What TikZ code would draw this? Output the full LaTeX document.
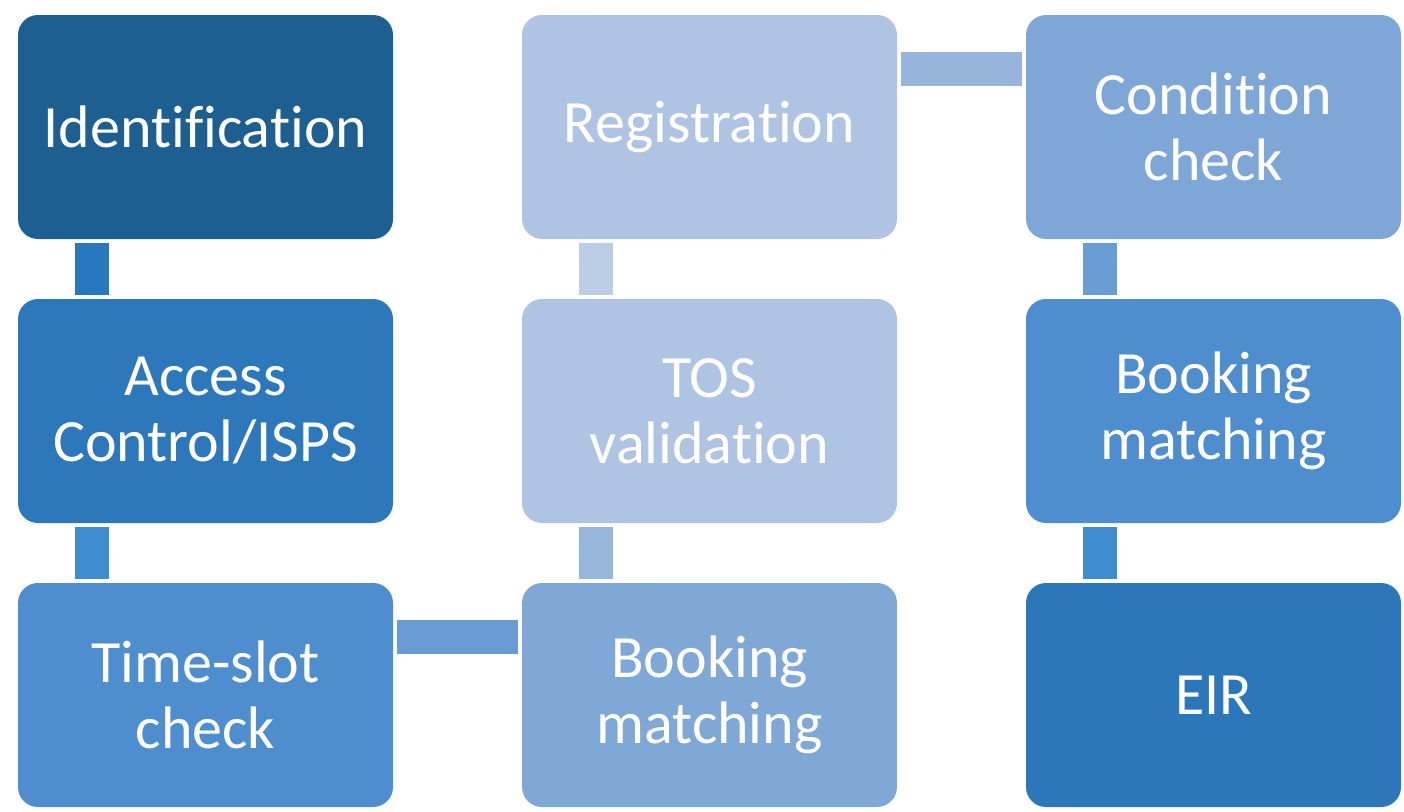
\documentclass[tikz,border=0pt]{standalone}
\usepackage{fontspec}
\setmainfont{Carlito}[Ligatures={NoCommon,NoContextual},RawFeature={-liga;-clig;-dlig}]
\usetikzlibrary{calc}
\definecolor{cId}{HTML}{1D5F91}
\definecolor{cAcc}{HTML}{2C78BA}
\definecolor{cTs}{HTML}{4E8ECF}
\definecolor{cBm}{HTML}{7FA8D7}
\definecolor{cTos}{HTML}{AFC4E2}
\definecolor{cReg}{HTML}{AFC4E2}
\definecolor{cCond}{HTML}{7EA7D7}
\definecolor{cBm2}{HTML}{4E8ECF}
\definecolor{cEir}{HTML}{2C77BA}
\definecolor{bA}{HTML}{2878BD}
\definecolor{bB}{HTML}{3F8CD0}
\definecolor{bC}{HTML}{6A9BD4}
\definecolor{bD}{HTML}{98B6DC}
\definecolor{bE}{HTML}{BCCDE6}
\definecolor{bF}{HTML}{97B5DC}
\definecolor{bG}{HTML}{6A9CD4}
\definecolor{bH}{HTML}{3F8CD0}
\tikzset{
  box/.style={rounded corners=20pt, minimum width=375pt, minimum height=224pt,
    inner sep=0pt, text=white, align=center, text width=360pt,
    font=\fontsize{60pt}{66pt}\selectfont},
  bar/.style={line width=34pt}
}
\begin{document}
\begin{tikzpicture}[x=1pt,y=-1pt]
\useasboundingbox (0,0) rectangle (1404,811);
\node[box, fill=cId]   (id)   at (205.5,127) {Identification};
\node[box, fill=cAcc]  (acc)  at (205.5,411) {Access\\Control/ISPS};
\node[box, fill=cTs]   (ts)   at (205.5,695) {Time-slot\\check};
\node[box, fill=cBm]   (bm)   at (709.5,695) {Booking\\matching};
\node[box, fill=cTos]  (tos)  at (709.5,411) {TOS\\validation};
\node[box, fill=cReg]  (reg)  at (709.5,127) {\raisebox{-2pt}{Registration}};
\node[box, fill=cCond] (cond) at (1213.5,127) {Condition\\check};
\node[box, fill=cBm2]  (bm2)  at (1213.5,411) {Booking\\matching};
\node[box, fill=cEir]  (eir)  at (1213.5,695) {EIR};
% connectors
\draw[bar, bA] ($(id.south west)+(74.5,4)$) -- ($(acc.north west)+(74.5,-4)$);
\draw[bar, bB] ($(acc.south west)+(74.5,4)$) -- ($(ts.north west)+(74.5,-4)$);
\draw[bar, bC] ($(ts.north east)+(4,54.5)$) -- ($(bm.north west)+(-4,54.5)$);
\draw[bar, bD] ($(bm.north west)+(74.5,-4)$) -- ($(tos.south west)+(74.5,4)$);
\draw[bar, bE] ($(tos.north west)+(74.5,-4)$) -- ($(reg.south west)+(74.5,4)$);
\draw[bar, bF] ($(reg.north east)+(4,54.5)$) -- ($(cond.north west)+(-4,54.5)$);
\draw[bar, bG] ($(cond.south west)+(74.5,4)$) -- ($(bm2.north west)+(74.5,-4)$);
\draw[bar, bH] ($(bm2.south west)+(74.5,4)$) -- ($(eir.north west)+(74.5,-4)$);
\end{tikzpicture}
\end{document}
